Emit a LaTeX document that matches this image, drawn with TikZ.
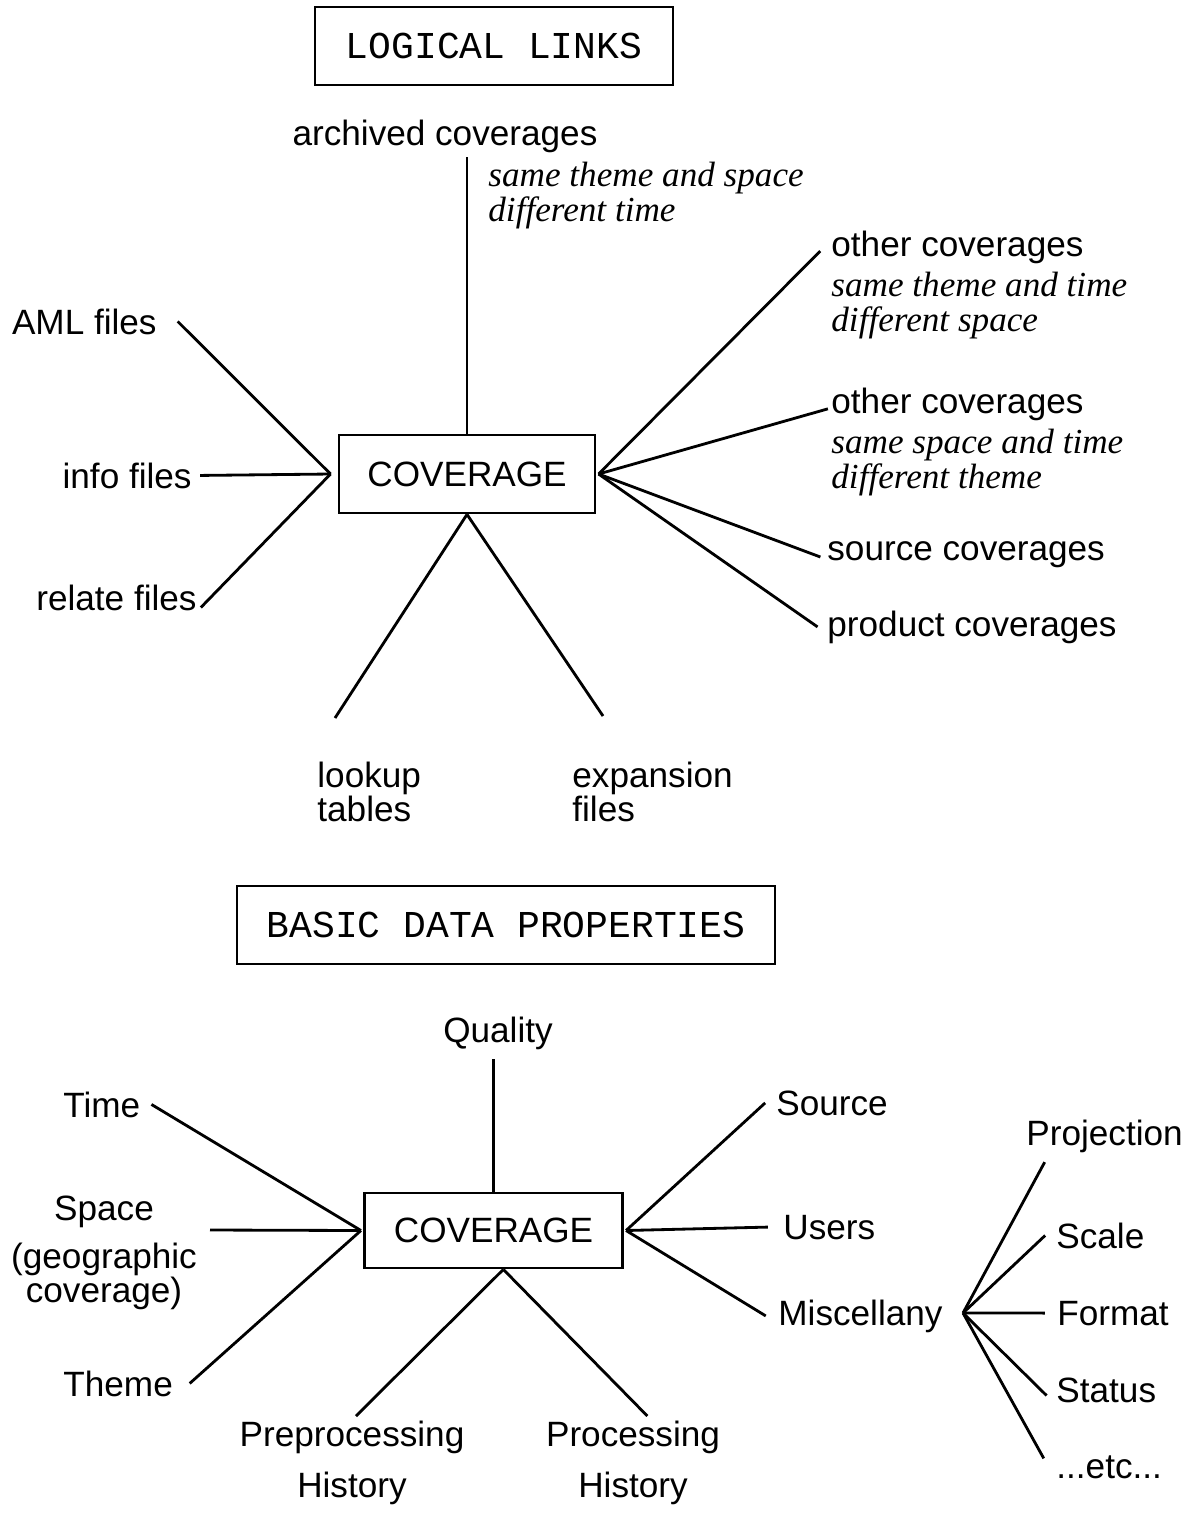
\documentclass[tikz,border=0pt]{standalone}
\usepackage{fontspec}
\newfontfamily\lblfont{Liberation Sans}
\newfontfamily\notefont{Liberation Serif}
\newfontfamily\headfont{Liberation Mono}

\begin{document}
\begin{tikzpicture}[x=0.025cm, y=-0.025cm, line width=2pt,
    lbl/.style={font=\lblfont\fontsize{25}{24}\selectfont, inner sep=0pt},
    histlbl/.style={font=\lblfont\fontsize{25}{36}\selectfont, inner sep=0pt, align=center, anchor=north},
    note/.style={font=\notefont\itshape\fontsize{25}{24.5}\selectfont, inner sep=0pt, align=left, anchor=north west},
    headbox/.style={draw, font=\headfont\fontsize{27}{27}\selectfont, minimum height=1.95cm},
    hubbox/.style={draw, font=\lblfont\fontsize{25}{25}\selectfont, minimum width=6.4cm, minimum height=1.95cm}]
    \useasboundingbox (0,0) rectangle (1193,1515);

    % logical links
    \node [headbox, minimum width=8.95cm] (links) at (494,46) {LOGICAL LINKS};
    \node [hubbox] (cov1) at (467,474) {COVERAGE};
    \coordinate (hubL) at ([xshift=-5pt]cov1.west);
    \coordinate (hubR) at ([xshift=1.5pt]cov1.east);

    \node [lbl, anchor=base] (arch) at (445,145) {archived coverages};
    \node [note] (archnote) at (487,161) {same theme and space\\different time};
    \draw [shorten >=2pt] (cov1.north) -- (cov1.north |- arch.south);

    \node [lbl, anchor=base east] (aml) at (158,334) {AML files};
    \node [lbl, anchor=base east] (info) at (193,488) {info files};
    \node [lbl, anchor=base east] (relate) at (198,610) {relate files};
    \draw (hubL) -- ([xshift=14pt]aml.east);
    \draw (hubL) -- ([xshift=5pt]info.east);
    \draw (hubL) -- ([shift={(2pt,3pt)}]relate.south east);

    \node [lbl, anchor=base west] (other1) at (830,256) {other coverages};
    \node [note] (note1) at (830,271) {same theme and time\\different space};
    \node [lbl, anchor=base west] (other2) at (830,413) {other coverages};
    \node [note] (note2) at (830,428) {same space and time\\different theme};
    \node [lbl, anchor=base west] (source) at (826,560) {source coverages};
    \node [lbl, anchor=base west] (product) at (826,636) {product coverages};
    \draw (hubR) -- ([shift={(-7pt,-3pt)}]other1.west);
    \draw (hubR) -- ([shift={(-1.5pt,-3.5pt)}]other2.west);
    \draw (hubR) -- ([shift={(-4pt,-2pt)}]source.west);
    \draw (hubR) -- ([xshift=-6pt]product.west);

    \node [lbl, align=left, anchor=north west] (lookup) at (316,761) {lookup\\tables};
    \node [lbl, align=left, anchor=north west] (expansion) at (571,761) {expansion\\files};
    \coordinate (lookupEnd) at (335,718);
    \coordinate (expEnd) at (603,716);
    \draw (cov1.south) -- (lookupEnd);
    \draw (cov1.south) -- (expEnd);

    % basic data properties
    \node [headbox, minimum width=13.45cm] (basic) at (506,925) {BASIC DATA PROPERTIES};
    \node [hubbox, minimum width=6.45cm, minimum height=1.875cm] (cov2) at (493.5,1230.5) {COVERAGE};
    \coordinate (hubL2) at ([xshift=-1.5pt]cov2.west);
    \coordinate (hubR2) at ([xshift=1.5pt]cov2.east);
    \coordinate (hubB2) at ([xshift=7pt]cov2.south);

    \node [lbl, anchor=base] (quality) at (498,1042) {Quality};
    \draw [shorten >=6pt] (cov2.north) -- (cov2.north |- quality.south);

    \node [lbl, anchor=base west] (time) at (62,1117) {Time};
    \node [lbl, align=center, anchor=north] (space) at (104,1195) {Space\\[10pt](geographic\\coverage)};
    \node [lbl, anchor=base west] (theme) at (62,1396) {Theme};
    \coordinate (spaceEnd) at (210,1230);
    \draw (hubL2) -- ([xshift=7pt]time.east);
    \draw (hubL2) -- (spaceEnd);
    \draw (hubL2) -- ([xshift=11pt]theme.east);

    \node [lbl, anchor=base west] (source2) at (775,1115) {Source};
    \node [lbl, anchor=base west] (users) at (782,1239) {Users};
    \node [lbl, anchor=base west] (misc) at (777,1325) {Miscellany};
    \draw (hubR2) -- ([xshift=-7pt]source2.west);
    \draw (hubR2) -- ([xshift=-10pt]users.west);
    \draw (hubR2) -- ([xshift=-8pt]misc.west);

    \node [histlbl] (preproc) at (352,1420) {Preprocessing\\History};
    \node [histlbl] (proc) at (633,1420) {Processing\\History};
    \draw [shorten >=4pt] (hubB2) -- (preproc.north);
    \draw [shorten >=4pt] (hubB2) -- ([xshift=13pt]proc.north);

    % miscellany fan
    \coordinate (hubM) at (963,1313);
    \node [lbl, anchor=base west] (proj) at (1025,1145) {Projection};
    \node [lbl, anchor=base west] (scale) at (1055,1248) {Scale};
    \node [lbl, anchor=base west] (format) at (1056,1325) {Format};
    \node [lbl, anchor=base west] (status) at (1055,1402) {Status};
    \node [lbl, anchor=base west] (etc) at (1055,1478) {...etc...};
    \draw (hubM) -- ([shift={(14pt,-6pt)}]proj.south west);
    \draw (hubM) -- ([xshift=-7pt]scale.west);
    \draw (hubM) -- ([xshift=-8pt]format.west);
    \draw (hubM) -- ([shift={(-6pt,-4pt)}]status.west);
    \draw (hubM) -- ([shift={(-8pt,6pt)}]etc.west);
  \end{tikzpicture}
\end{document}
